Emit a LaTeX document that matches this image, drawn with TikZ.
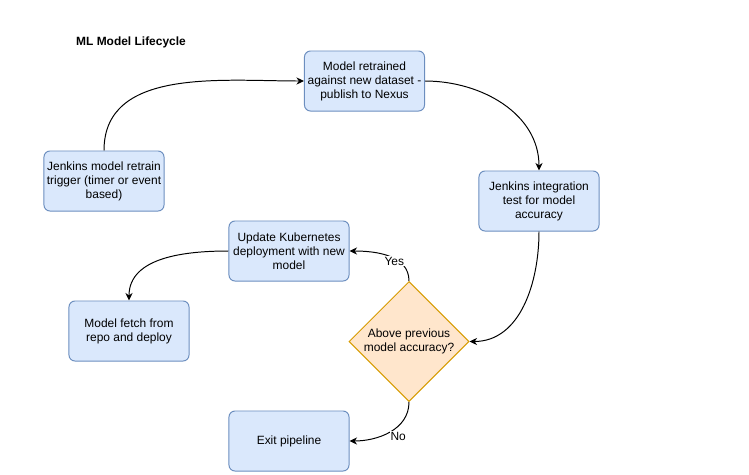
\documentclass[tikz,border=0pt]{standalone}
\usepackage{fontspec}
\setmainfont{Liberation Sans}
\usetikzlibrary{shapes.geometric,arrows.meta}
\definecolor{boxfill}{HTML}{DAE8FC}
\definecolor{boxline}{HTML}{6C8EBF}
\definecolor{decfill}{HTML}{FFE6CC}
\definecolor{decline}{HTML}{D79B00}
\begin{document}
\begin{tikzpicture}[x=0.025cm, y=-0.025cm,
  txt/.style={font=\fontsize{8.5}{10}\selectfont},
  box/.style={txt, draw=boxline, fill=boxfill, line width=0.7pt,
    rounded corners=0.15cm, minimum width=3cm, minimum height=1.5cm,
    align=center, inner sep=1pt},
  decision/.style={txt, diamond, draw=decline, fill=decfill, line width=0.7pt,
    minimum width=3cm, minimum height=3cm, align=center, inner sep=0pt},
  flow/.style={line width=0.7pt, -{Stealth[length=1.9mm, width=1.8mm]}},
  tag/.style={txt, fill=white, inner sep=0.5pt}]
  \useasboundingbox (0, 0) rectangle (749, 474);

  % Title
  \node [txt, font=\fontsize{8.5}{10}\selectfont\bfseries] (title) at (131, 42)
    {ML Model Lifecycle};

  % Boxes
  \node [box] (trigger) at (104, 181)
    {Jenkins model retrain\\trigger (timer or event\\based)};
  \node [box] (retrain) at (364.5, 81)
    {Model retrained\\against new dataset -\\publish to Nexus};
  \node [box] (test) at (539, 201)
    {Jenkins integration\\test for model\\accuracy};
  \node [box] (update) at (289, 251)
    {Update Kubernetes\\deployment with new\\model};
  \node [box] (fetch) at (129, 331) {Model fetch from\\repo and deploy};
  \node [box] (exit) at (289, 441) {Exit pipeline};

  % Decision
  \node [decision] (check) at (409, 341.5) {Above previous\\model accuracy?};

  % Edges
  \draw [flow] (trigger.north) to [out=90, in=180] (retrain.west);
  \draw [flow] (retrain.east) to [out=0, in=90] (test.north);
  \draw [flow] (test.south) to [out=-90, in=0] (check.east);
  \draw [flow] (check.north) to [out=90, in=0]
    node [tag, pos=0.42, yshift=-2pt] {Yes} (update.east);
  \draw [flow] (update.west) to [out=180, in=90] (fetch.north);
  \draw [flow] (check.south) to [out=-90, in=0]
    node [tag, pos=0.5, xshift=6pt, yshift=-3pt] {No} (exit.east);
\end{tikzpicture}
\end{document}
